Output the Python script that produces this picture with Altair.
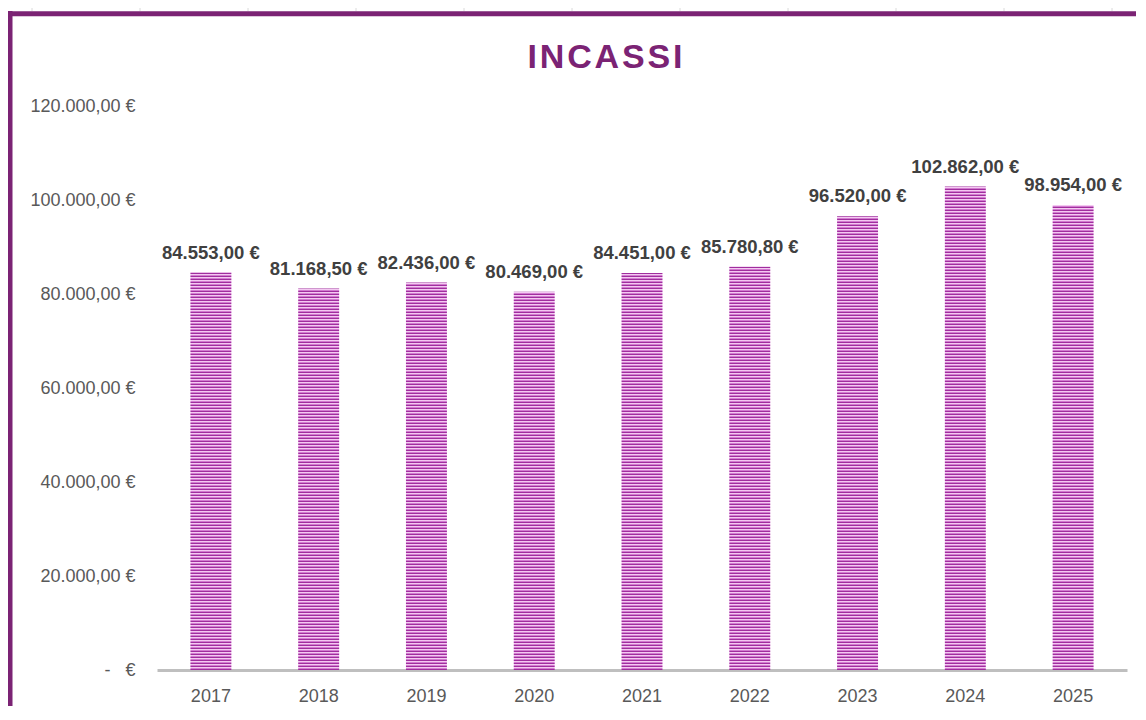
import math
import altair as alt
import pandas as pd

# ---- data ----
years = ["2017", "2018", "2019", "2020", "2021", "2022", "2023", "2024", "2025"]
incassi = [84553.00, 81168.50, 82436.00, 80469.00, 84451.00, 85780.80, 96520.00, 102862.00, 98954.00]
y_ticks = [0, 20000, 40000, 60000, 80000, 100000, 120000]
title_text = "INCASSI"

df = pd.DataFrame({"year": years, "value": incassi})
one = pd.DataFrame({"k": [0]})

# ---- layout / style ----
W, H = 970, 564
Y_MAX = 120000
PAD = {"left": 149, "top": 98, "right": 9, "bottom": 36}
PURPLE = "#7B2374"
STRIPE_ROWS = ["#A02E9E", "#D27CD0", "#F3C9F1"]  # 1px rows, repeating from the baseline
GREY_TXT = "#595959"


def stripes(v):
    """Horizontal stripe pattern as a hard-stop linear gradient aligned to pixel rows."""
    h = v / Y_MAX * H
    segs = []
    for j in range(math.ceil(h)):
        top = max((h - j - 1) / h, 0.0)
        bot = (h - j) / h
        col = STRIPE_ROWS[j % len(STRIPE_ROWS)]
        segs.append((top, bot, col))
    segs.sort()
    stops = []
    for top, bot, col in segs:
        stops.append({"offset": round(top, 6), "color": col})
        stops.append({"offset": round(bot, 6), "color": col})
    return {"gradient": "linear", "x1": 0, "y1": 0, "x2": 0, "y2": 1, "stops": stops}


fmt_it = "replace(replace(replace(format(datum.value, ',.2f'), ',', '#'), '.', ','), '#', '.')"

x_enc = alt.X(
    "year:N",
    sort=years,
    scale=alt.Scale(paddingInner=0.62, paddingOuter=0.31),
    axis=alt.Axis(
        title=None, labelAngle=0, labelFont="Liberation Sans", labelFontSize=18,
        labelColor=GREY_TXT, labelPadding=17, ticks=False,
        domainColor="#BFBFBF", domainWidth=3,
    ),
)
y_enc = alt.Y(
    "value:Q",
    scale=alt.Scale(domain=[0, Y_MAX], nice=False),
    axis=alt.Axis(
        title=None, values=y_ticks, grid=False, domain=False, ticks=False,
        labelPadding=22, labelFont="Liberation Sans", labelFontSize=18, labelColor=GREY_TXT,
        labelExpr="datum.value == 0 ? '-\u00a0\u00a0\u00a0€' : " + fmt_it + " + '\u00a0€'",
    ),
)

bars = [
    alt.Chart(df)
    .transform_filter(alt.datum.year == yr)
    .mark_bar(fill=stripes(v))
    .encode(x=x_enc, y=y_enc)
    for yr, v in zip(years, incassi)
]

labels = (
    alt.Chart(df)
    .transform_calculate(label=fmt_it + " + '\u00a0€'")
    .mark_text(font="Liberation Sans", fontSize=18.5, fontWeight="bold", color="#404040",
               baseline="alphabetic", dy=-14)
    .encode(x=x_enc, y=y_enc, text="label:N")
)

title = (
    alt.Chart(one)
    .mark_text(text="\u200a".join(title_text), font="Liberation Sans", fontSize=34, fontWeight="bold",
               color=PURPLE, align="center", baseline="alphabetic")
    .encode(x=alt.value(448), y=alt.value(-38))
)

# spreadsheet decoration: chart-area border and sheet gridline stubs
decor = [
    alt.Chart(one).mark_rule(color="#DADADA", strokeWidth=1)
    .encode(x=alt.value(-125 + 108 * i), y=alt.value(-98), y2=alt.value(-95))
    for i in range(11)
]
decor += [
    alt.Chart(one).mark_rule(color=PURPLE, strokeWidth=5)
    .encode(x=alt.value(-147), y=alt.value(-95), y2=alt.value(600)),
    alt.Chart(one).mark_rule(color=PURPLE, strokeWidth=5)
    .encode(x=alt.value(-149.5), x2=alt.value(979), y=alt.value(-92.2)),
]

chart = (
    alt.layer(*decor, *bars, labels, title)
    .properties(width=W, height=H, padding=PAD, autosize=alt.AutoSizeParams(type="none"),
                background="white")
    .configure_view(stroke=None)
)

chart.save("out.html", embed_options={"renderer": "svg", "actions": False})
